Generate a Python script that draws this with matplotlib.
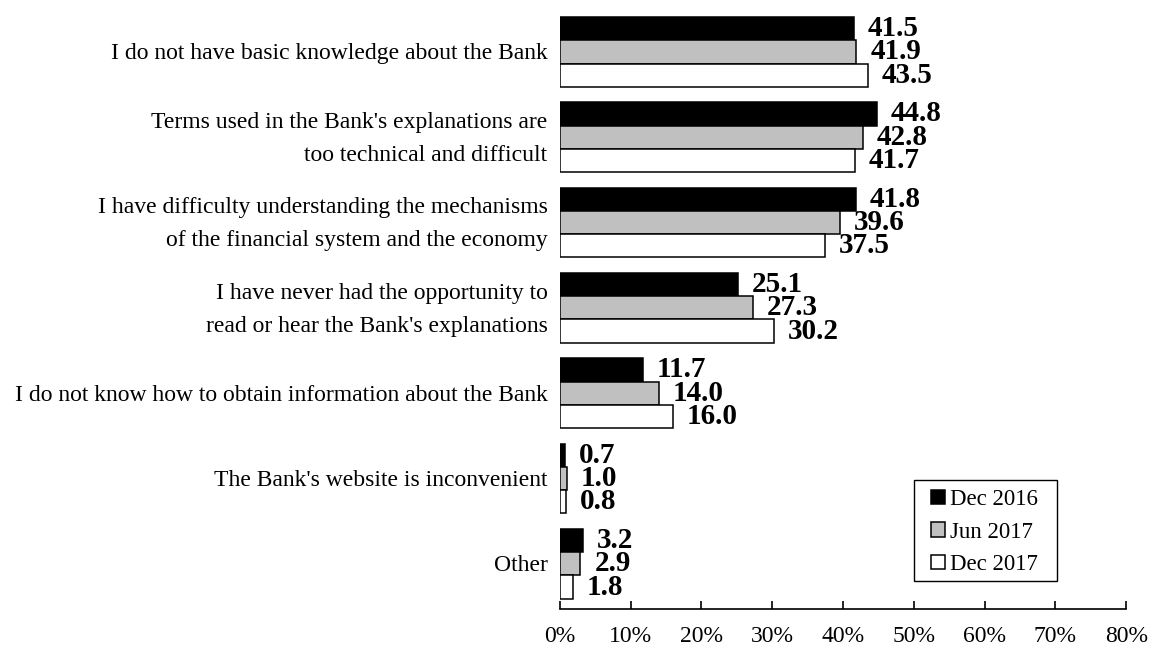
import matplotlib
matplotlib.use('Agg')
import matplotlib.pyplot as plt
from matplotlib.patches import Rectangle
import numpy as np

plt.rcParams['font.family'] = ['Liberation Serif', 'DejaVu Serif']

categories = [
    "I do not have basic knowledge about the Bank",
    "Terms used in the Bank's explanations are\ntoo technical and difficult",
    "I have difficulty understanding the mechanisms\nof the financial system and the economy",
    "I have never had the opportunity to\nread or hear the Bank's explanations",
    "I do not know how to obtain information about the Bank",
    "The Bank's website is inconvenient",
    "Other",
]
series_names = ['Dec 2016', 'Jun 2017', 'Dec 2017']
dec2016 = [41.5, 44.8, 41.8, 25.1, 11.7, 0.7, 3.2]
jun2017 = [41.9, 42.8, 39.6, 27.3, 14.0, 1.0, 2.9]
dec2017 = [43.5, 41.7, 37.5, 30.2, 16.0, 0.8, 1.8]
colors = ['#000000', '#c0c0c0', '#ffffff']

fig = plt.figure(figsize=(11.55, 6.48), dpi=100)
ax = fig.add_axes([0.4848, 0.0602, 0.4902, 0.9255])

y = np.arange(len(categories))
h = 0.273
for i, (vals, name, c) in enumerate(zip([dec2016, jun2017, dec2017], series_names, colors)):
    pos = y - h + i * h
    ax.barh(pos, vals, height=h, color=c, edgecolor='black', linewidth=1.1, label=name)
    for p, v in zip(pos, vals):
        ax.annotate(f'{v:.1f}', (v, p), xytext=(10, 0), textcoords='offset points',
                    va='center', ha='left', fontsize=21, fontweight='bold')

ax.set_ylim(len(categories) - 0.47, -0.5)
ax.set_xlim(0, 80)
ax.set_xticks(np.arange(0, 81, 10))
ax.set_xticklabels([f'{t}%' for t in range(0, 81, 10)])
ax.set_yticks([])

# category labels, right-aligned just left of the bars
for yi, cat in zip(y, categories):
    ax.annotate(cat, (0, yi), xycoords=('axes fraction', 'data'), xytext=(-9, -1.4),
                textcoords='offset points', ha='right', va='center', multialignment='right',
                fontsize=17, linespacing=1.75)

for s in ['top', 'right', 'left']:
    ax.spines[s].set_visible(False)
ax.spines['bottom'].set_linewidth(1.2)
ax.tick_params(axis='x', direction='in', length=6, width=1.2, labelsize=17, pad=12)

# legend without its own frame; box drawn separately for wider side margins
leg = ax.legend(loc='upper left', bbox_to_anchor=(0.655, 0.2), frameon=False,
                fontsize=16.5, handlelength=0.6, handleheight=0.6,
                handletextpad=0.25, borderpad=0, labelspacing=0.5, borderaxespad=0)
ax.add_patch(Rectangle((0.625, 0.047), 0.2527, 0.168, transform=ax.transAxes,
                       fill=False, edgecolor='black', linewidth=1.0, clip_on=False))

fig.savefig('out.png', dpi=100)
